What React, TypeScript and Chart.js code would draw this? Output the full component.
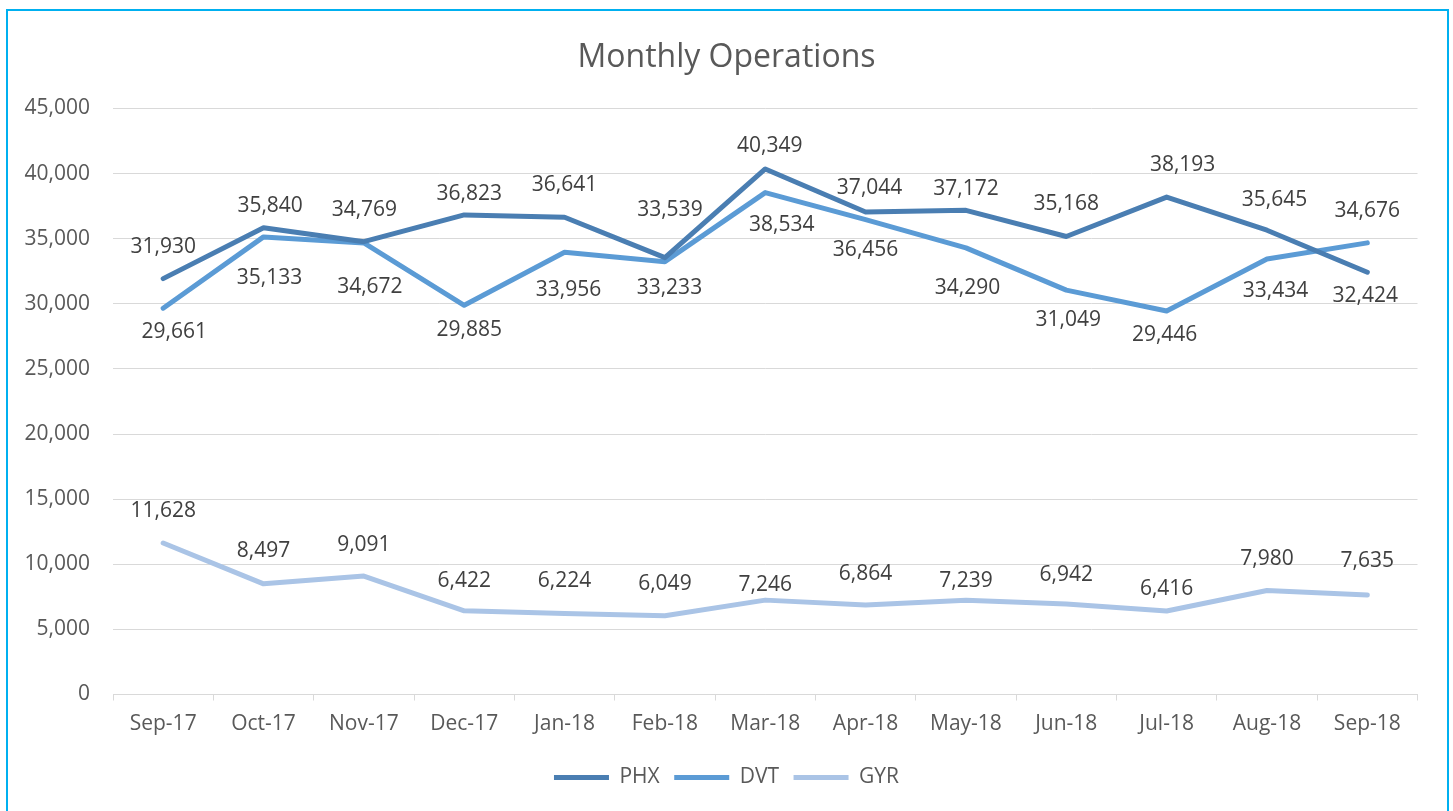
import React, { useEffect, useRef } from "react";
import { Chart, registerables } from "chart.js";

Chart.register(...registerables);

const categories = ["Sep-17", "Oct-17", "Nov-17", "Dec-17", "Jan-18", "Feb-18", "Mar-18", "Apr-18", "May-18", "Jun-18", "Jul-18", "Aug-18", "Sep-18"];
const phxValues = [31930, 35840, 34769, 36823, 36641, 33539, 40349, 37044, 37172, 35168, 38193, 35645, 32424];
const dvtValues = [29661, 35133, 34672, 29885, 33956, 33233, 38534, 36456, 34290, 31049, 29446, 33434, 34676];
const gyrValues = [11628, 8497, 9091, 6422, 6224, 6049, 7246, 6864, 7239, 6942, 6416, 7980, 7635];
const yTickValues = [0, 5000, 10000, 15000, 20000, 25000, 30000, 35000, 40000, 45000];

// data-label placement relative to each point (label styling only)
const phxLabelDy = [-32, -21.5, -31.5, -21, -32, -47.5, -23, -24, -21, -32, -32, -30.6, 24];
const phxLabelDx = [0, 6.6, 0.5, 5, 0, 5, 4.5, 4, 0, 0, 16, 7.5, -2];
const dvtLabelDy = [24, 41, 44, 25, 38, 26.6, 32.5, 30.5, 40, 30, 24, 32, -31.7];
const dvtLabelDx = [11, 6, 6, 5, 4, 4.5, 16.5, 0, 1.5, 2, -2, 8.5, 0];
const gyrLabelDy = [-32, -33, -31.5, -30, -32, -32, -15.5, -31.5, -19, -29.5, -22, -32, -34.5];
const gyrLabelDx = [0, 0, 0, 0, 0, 0, 0, 0, 0, 0, 0, 0, 0];

const FONT = "'Open Sans', 'Liberation Sans', sans-serif";

const dataLabelPlugin = {
  id: "dataLabelPlugin",
  afterDatasetsDraw(chart: any) {
    const ctx = chart.ctx;
    const offsets = [
      [phxLabelDx, phxLabelDy],
      [dvtLabelDx, dvtLabelDy],
      [gyrLabelDx, gyrLabelDy],
    ];
    ctx.save();
    ctx.font = `21px ${FONT}`;
    ctx.fillStyle = "#404040";
    ctx.textAlign = "center";
    ctx.textBaseline = "middle";
    chart.data.datasets.forEach((ds: any, di: number) => {
      const meta = chart.getDatasetMeta(di);
      meta.data.forEach((pt: any, i: number) => {
        const v = ds.data[i] as number;
        const [dxs, dys] = offsets[di];
        ctx.fillText(v.toLocaleString("en-US"), pt.x + dxs[i], pt.y + dys[i]);
      });
    });
    ctx.restore();
  },
};

export default function App() {
  const canvasRef = useRef<HTMLCanvasElement | null>(null);

  useEffect(() => {
    if (!canvasRef.current) return;
    const mkDataset = (label: string, data: number[], color: string) => ({
      label,
      data,
      borderColor: color,
      backgroundColor: color,
      borderWidth: 5,
      borderCapStyle: "round" as const,
      borderJoinStyle: "round" as const,
      pointRadius: 0,
      pointHoverRadius: 0,
      pointStyle: "line" as const,
      tension: 0,
      fill: false,
    });
    const chart = new Chart(canvasRef.current, {
      type: "line",
      data: {
        labels: categories,
        datasets: [
          mkDataset("PHX", phxValues, "#4A7EB2"),
          mkDataset("DVT", dvtValues, "#5B9BD5"),
          mkDataset("GYR", gyrValues, "#AAC4E6"),
        ],
      },
      options: {
        responsive: false,
        animation: false,
        layout: { padding: { left: 0, right: 0, top: 0, bottom: 13 } },
        plugins: {
          title: {
            display: true,
            text: "Monthly Operations",
            color: "#595959",
            font: { family: FONT, size: 32, weight: "normal" },
            padding: { top: 39, bottom: 31 },
          },
          legend: {
            position: "bottom",
            labels: {
              usePointStyle: true,
              pointStyleWidth: 55,
              boxHeight: 21,
              padding: 14.5,
              color: "#595959",
              font: { family: FONT, size: 21 },
            },
          },
          tooltip: { enabled: false },
        },
        scales: {
          x: {
            offset: true,
            grid: {
              display: true,
              drawOnChartArea: false,
              drawTicks: true,
              tickLength: 6,
              color: "#D9D9D9",
              offset: true,
            },
            border: { display: true, color: "#D9D9D9" },
            ticks: {
              color: "#595959",
              font: { family: FONT, size: 21 },
              padding: 11,
              maxRotation: 0,
              autoSkip: false,
            },
            afterFit: (scale: any) => {
              scale.height = 58;
            },
          },
          y: {
            min: 0,
            max: 45000,
            afterBuildTicks: (scale: any) => {
              scale.ticks = yTickValues.map((v) => ({ value: v }));
            },
            grid: { color: "#D9D9D9", drawTicks: false, lineWidth: 1 },
            border: { display: false },
            ticks: {
              color: "#595959",
              font: { family: FONT, size: 21 },
              padding: 23,
              callback: (v: any) => Number(v).toLocaleString("en-US"),
            },
            afterFit: (scale: any) => {
              scale.width = 113;
            },
          },
          yRightSpace: {
            position: "right",
            display: true,
            grid: { display: false, drawTicks: false },
            border: { display: false },
            ticks: { display: false },
            afterFit: (scale: any) => {
              scale.width = 35.5;
            },
          },
        },
      },
      plugins: [dataLabelPlugin],
    });
    return () => chart.destroy();
  }, []);

  return (
    <div
      style={{
        position: "fixed",
        left: 0,
        top: 0,
        width: 1453,
        height: 811,
        background: "#ffffff",
        overflow: "hidden",
      }}
    >
      <canvas ref={canvasRef} width={1453} height={811} style={{ position: "absolute", left: 0, top: 0 }} />
      <div
        style={{
          position: "absolute",
          left: 6,
          top: 9,
          width: 1439,
          height: 900,
          border: "2px solid #00B0F0",
          pointerEvents: "none",
        }}
      />
    </div>
  );
}
